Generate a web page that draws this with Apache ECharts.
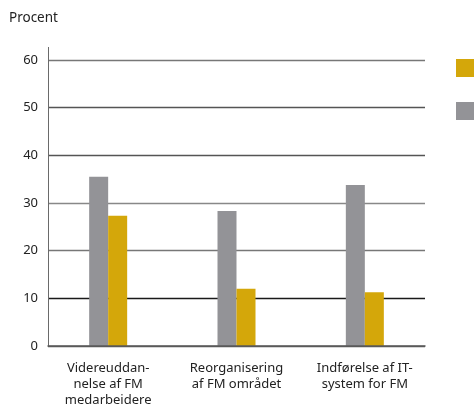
<!DOCTYPE html>
<html>
<head>
<meta charset="utf-8">
<script src="https://cdn.jsdelivr.net/npm/echarts@6/dist/echarts.min.js"></script>
<style>
  html, body { margin: 0; padding: 0; background: #fff; }
  #chart { width: 474px; height: 412px; }
</style>
</head>
<body>
<div id="chart"></div>
<script>
// kategorier og værdier
const categories = [
  "Videreuddan-\nnelse af FM\nmedarbeidere",
  "Reorganisering\naf FM området",
  "Indførelse af IT-\nsystem for FM"
];
const grayValues = [35.5, 28.3, 33.8];
const yellowValues = [27.3, 12.0, 11.3];
const seriesNames = ["Serie 1", "Serie 2"];
const yTicks = { min: 0, max: 60, interval: 10 };

const font = "Noto Sans";
const chart = echarts.init(document.getElementById("chart"));

chart.setOption({
  backgroundColor: "#fff",
  animation: false,
  title: {
    text: "Procent",
    left: 9,
    top: 11,
    padding: 0,
    textStyle: { fontFamily: font, fontSize: 13.5, fontWeight: "normal", color: "#222" }
  },
  legend: {
    orient: "vertical",
    left: 456,
    top: 59,
    padding: 0,
    itemWidth: 18,
    itemHeight: 18,
    itemGap: 25,
    icon: "rect",
    data: [seriesNames[1], seriesNames[0]],
    textStyle: { fontFamily: font, fontSize: 13, color: "#222" }
  },
  // grid 0: akse og gitterlinjer, grid 1: søjler
  grid: [
    { left: 48, right: 49, top: 60, bottom: 66 },
    { left: 44, right: 45, top: 60, bottom: 66 }
  ],
  xAxis: [
    {
      gridIndex: 0,
      type: "category",
      data: categories,
      z: 5,
      axisLine: { show: true, lineStyle: { color: "#5a5a5a", width: 1.5 } },
      axisTick: { show: false },
      axisLabel: { show: false }
    },
    {
      gridIndex: 1,
      type: "category",
      data: categories,
      axisLine: { show: false },
      axisTick: { show: false },
      axisLabel: {
        margin: 14,
        fontFamily: font,
        fontSize: 13,
        lineHeight: 16,
        color: "#222"
      }
    }
  ],
  yAxis: [
    {
      gridIndex: 0,
      type: "value",
      min: yTicks.min,
      max: yTicks.max,
      interval: yTicks.interval,
      axisLine: { show: true, lineStyle: { color: "#6a6a6a", width: 1 } },
      axisTick: { show: false },
      axisLabel: { margin: 10, fontFamily: font, fontSize: 13, color: "#222" },
      splitLine: {
        show: true,
        lineStyle: {
          color: ["#5a5a5a", "#1a1a1a", "#777", "#888", "#555", "#555", "#777"],
          width: 1.3
        }
      }
    },
    {
      gridIndex: 1,
      type: "value",
      min: yTicks.min,
      max: yTicks.max,
      interval: yTicks.interval,
      show: false,
      splitLine: { show: false }
    }
  ],
  graphic: [
    {
      type: "line",
      shape: { x1: 48.5, y1: 47, x2: 48.5, y2: 60 },
      style: { stroke: "#6a6a6a", lineWidth: 1 }
    }
  ],
  series: [
    {
      name: seriesNames[0],
      type: "bar",
      xAxisIndex: 1,
      yAxisIndex: 1,
      data: grayValues,
      barWidth: 19,
      barGap: "0%",
      itemStyle: { color: "#939397" }
    },
    {
      name: seriesNames[1],
      type: "bar",
      xAxisIndex: 1,
      yAxisIndex: 1,
      data: yellowValues,
      barWidth: 19,
      barGap: "0%",
      itemStyle: { color: "#d4a70a" }
    }
  ]
});
</script>
</body>
</html>
